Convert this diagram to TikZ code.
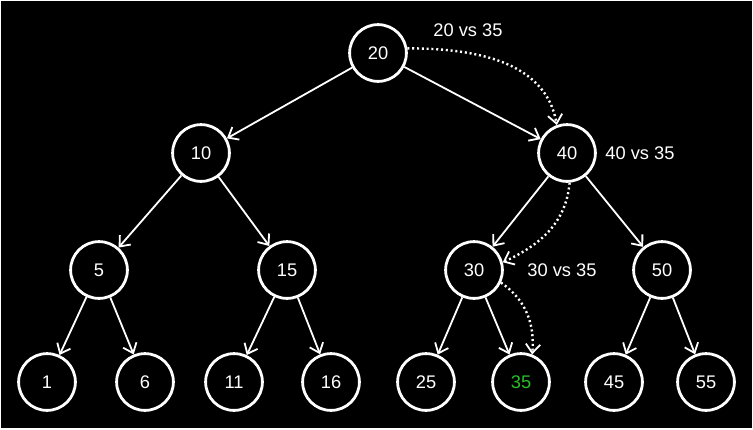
\documentclass[tikz,border=0pt]{standalone}
\usepackage{fontspec}
\setmainfont{Liberation Sans}
\usetikzlibrary{arrows.meta}
\definecolor{foundgreen}{RGB}{40,190,40}

\begin{document}
\begin{tikzpicture}
  \tikzset{KeyStyle/.style = {shape=circle,draw=white,line width=0.07cm,minimum size=1.42cm,inner sep=0pt,text=white,font=\fontsize{13}{15}\selectfont},
    EdgeStyle/.style = {draw=white,line width=0.045cm,-{Straight Barb[length=0.22cm,width=0.36cm,line width=0.045cm]}},
    SearchStyle/.style = {draw=white,line width=0.06cm,dash pattern=on 0.05cm off 0.07cm,-{Straight Barb[length=0.22cm,width=0.36cm,line width=0.045cm]}},
    NoteStyle/.style = {text=white,font=\fontsize{13}{15}\selectfont}}
\useasboundingbox (0,0) rectangle (18.825,10.725);
\fill[black] (0.025,0.025) rectangle (18.8,10.7);
\node[KeyStyle] (k20) at (9.45cm,9.40cm) {20};
\node[KeyStyle] (k10) at (5.025cm,6.90cm) {10};
\node[KeyStyle] (k40) at (14.175cm,6.90cm) {40};
\node[KeyStyle] (k5) at (2.475cm,3.975cm) {5};
\node[KeyStyle] (k15) at (7.175cm,3.975cm) {15};
\node[KeyStyle] (k30) at (11.85cm,3.975cm) {30};
\node[KeyStyle] (k50) at (16.55cm,3.975cm) {50};
\node[KeyStyle] (k1) at (1.175cm,1.175cm) {1};
\node[KeyStyle] (k6) at (3.625cm,1.175cm) {6};
\node[KeyStyle] (k11) at (5.85cm,1.175cm) {11};
\node[KeyStyle] (k16) at (8.275cm,1.175cm) {16};
\node[KeyStyle] (k25) at (10.65cm,1.175cm) {25};
\node[KeyStyle,text=foundgreen] (k35) at (13.025cm,1.175cm) {35};
\node[KeyStyle] (k45) at (15.35cm,1.175cm) {45};
\node[KeyStyle] (k55) at (17.65cm,1.175cm) {55};
%
\node[NoteStyle] (n20) at (11.70cm,9.98cm) {20 vs 35};
\node[NoteStyle] (n40) at (16.00cm,6.90cm) {40 vs 35};
\node[NoteStyle] (n30) at (14.05cm,3.975cm) {30 vs 35};
%
\draw[EdgeStyle] (k20) -- (k10);
\draw[EdgeStyle] (k20) -- (k40);
\draw[EdgeStyle] (k10) -- (k5);
\draw[EdgeStyle] (k10) -- (k15);
\draw[EdgeStyle] (k40) -- (k30);
\draw[EdgeStyle] (k40) -- (k50);
\draw[EdgeStyle] (k5) -- (k1);
\draw[EdgeStyle] (k5) -- (k6);
\draw[EdgeStyle] (k15) -- (k11);
\draw[EdgeStyle] (k15) -- (k16);
\draw[EdgeStyle] (k30) -- (k25);
\draw[EdgeStyle] (k30) -- (k35);
\draw[EdgeStyle] (k50) -- (k45);
\draw[EdgeStyle] (k50) -- (k55);
%
\draw[SearchStyle] (k20.9) to[out=0,in=100] (k40.110);
\draw[SearchStyle] (k40.-85) to[out=-95,in=25] (k30.15);
\draw[SearchStyle] (k30.-25) to[out=-35,in=85] (k35.68);
\end{tikzpicture}
\end{document}
